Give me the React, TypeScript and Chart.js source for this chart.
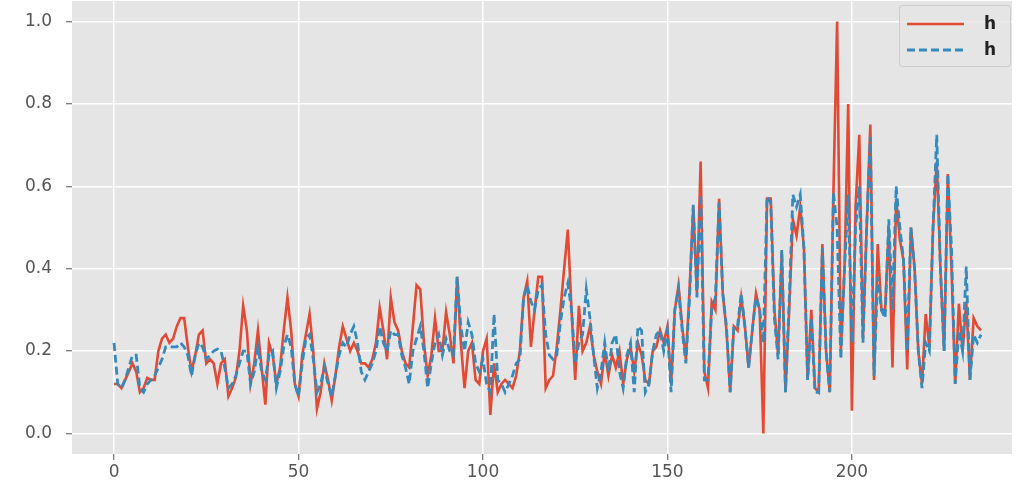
import React, { useEffect, useRef } from "react";
import { Chart, registerables } from "chart.js";

Chart.register(...registerables);

const redValues: number[] = [
  0.12, 0.12, 0.11, 0.13, 0.15, 0.17, 0.15, 0.10, 0.11, 0.135,
  0.13, 0.13, 0.20, 0.23, 0.24, 0.22, 0.23, 0.26, 0.28, 0.28,
  0.21, 0.15, 0.19, 0.24, 0.25, 0.17, 0.18, 0.17, 0.12, 0.17,
  0.18, 0.09, 0.11, 0.135, 0.2, 0.31, 0.25, 0.12, 0.17, 0.25,
  0.16, 0.07, 0.22, 0.19, 0.12, 0.16, 0.25, 0.33, 0.25, 0.12,
  0.09, 0.19, 0.24, 0.29, 0.2, 0.06, 0.1, 0.17, 0.13, 0.08,
  0.14, 0.21, 0.26, 0.23, 0.2, 0.22, 0.2, 0.17, 0.17, 0.16,
  0.18, 0.22, 0.305, 0.25, 0.18, 0.33, 0.27, 0.25, 0.2, 0.17,
  0.16, 0.26, 0.36, 0.35, 0.22, 0.14, 0.19, 0.28, 0.2, 0.2,
  0.295, 0.24, 0.17, 0.38, 0.22, 0.11, 0.2, 0.22, 0.13, 0.12,
  0.2, 0.23, 0.045, 0.17, 0.1, 0.12, 0.13, 0.12, 0.11, 0.14,
  0.2, 0.33, 0.37, 0.21, 0.3, 0.38, 0.38, 0.11, 0.13, 0.14,
  0.21, 0.3, 0.4, 0.495, 0.3, 0.13, 0.31, 0.2, 0.22, 0.26,
  0.19, 0.15, 0.12, 0.2, 0.14, 0.19, 0.16, 0.2, 0.12, 0.18,
  0.21, 0.15, 0.22, 0.19, 0.13, 0.12, 0.2, 0.21, 0.25, 0.22,
  0.26, 0.12, 0.3, 0.36, 0.26, 0.18, 0.35, 0.55, 0.34, 0.66,
  0.15, 0.11, 0.32, 0.3, 0.57, 0.34, 0.25, 0.1, 0.26, 0.25,
  0.33, 0.26, 0.16, 0.25, 0.34, 0.3, 0.0, 0.57, 0.57, 0.3,
  0.19, 0.44, 0.1, 0.3, 0.52, 0.48, 0.55, 0.45, 0.13, 0.3,
  0.11, 0.1, 0.46, 0.2, 0.1, 0.59, 1.0, 0.2, 0.4, 0.8,
  0.055, 0.55, 0.725, 0.23, 0.5, 0.75, 0.13, 0.46, 0.3, 0.3,
  0.5, 0.16, 0.57, 0.47, 0.42, 0.155, 0.5, 0.4, 0.2, 0.12,
  0.29, 0.21, 0.5, 0.66, 0.4, 0.2, 0.63, 0.4, 0.12, 0.315,
  0.2, 0.32, 0.13, 0.28, 0.26, 0.25,
];

const blueValues: number[] = [
  0.22, 0.12, 0.11, 0.13, 0.16, 0.19, 0.19, 0.11, 0.10, 0.12,
  0.13, 0.14, 0.16, 0.18, 0.21, 0.21, 0.21, 0.21, 0.22, 0.21,
  0.19, 0.14, 0.19, 0.22, 0.21, 0.18, 0.19, 0.2, 0.205, 0.2,
  0.16, 0.11, 0.12, 0.14, 0.17, 0.2, 0.2, 0.12, 0.15, 0.21,
  0.15, 0.13, 0.19, 0.2, 0.11, 0.15, 0.21, 0.24, 0.21, 0.12,
  0.09, 0.17, 0.23, 0.24, 0.18, 0.1, 0.12, 0.16, 0.12, 0.09,
  0.14, 0.19, 0.22, 0.21, 0.24, 0.26, 0.22, 0.15, 0.13, 0.15,
  0.17, 0.2, 0.26, 0.22, 0.2, 0.25, 0.24, 0.24, 0.19, 0.16,
  0.12, 0.2, 0.23, 0.26, 0.2, 0.11, 0.17, 0.22, 0.24, 0.19,
  0.23, 0.2, 0.19, 0.38, 0.26, 0.2, 0.27, 0.24, 0.17, 0.15,
  0.18, 0.12, 0.1, 0.29, 0.13, 0.12, 0.1, 0.12, 0.14, 0.17,
  0.18, 0.33, 0.36, 0.32, 0.3, 0.35, 0.36, 0.24, 0.19, 0.18,
  0.19, 0.27, 0.33, 0.365, 0.3, 0.17, 0.22, 0.24, 0.35, 0.28,
  0.19, 0.11, 0.15, 0.22, 0.15, 0.22, 0.24, 0.15, 0.11, 0.19,
  0.22, 0.1, 0.26, 0.25, 0.1, 0.12, 0.2, 0.24, 0.25, 0.2,
  0.25, 0.1, 0.3, 0.35, 0.25, 0.17, 0.33, 0.555, 0.33, 0.58,
  0.13, 0.13, 0.3, 0.33, 0.56, 0.34, 0.26, 0.1, 0.26, 0.26,
  0.34, 0.26, 0.16, 0.25, 0.33, 0.3, 0.22, 0.575, 0.56, 0.28,
  0.18, 0.445, 0.1, 0.32, 0.58, 0.55, 0.58, 0.45, 0.13, 0.28,
  0.1, 0.1, 0.45, 0.2, 0.1, 0.585, 0.5, 0.18, 0.4, 0.58,
  0.22, 0.5, 0.6, 0.22, 0.5, 0.72, 0.14, 0.38, 0.3, 0.28,
  0.52, 0.3, 0.6, 0.5, 0.42, 0.2, 0.5, 0.4, 0.2, 0.11,
  0.22, 0.2, 0.5, 0.725, 0.4, 0.2, 0.63, 0.45, 0.12, 0.25,
  0.2, 0.405, 0.13, 0.24, 0.22, 0.24,
];

const seriesLabels: string[] = ["h", "h"];
const xTickValues: number[] = [0, 50, 100, 150, 200];
const yTickValues: number[] = [0, 0.2, 0.4, 0.6, 0.8, 1.0];

const RED = "#E24A33";
const BLUE = "#348ABD";

const bgPlugin = {
  id: "plotBg",
  beforeDraw(chart: any) {
    const { ctx, chartArea } = chart;
    ctx.save();
    ctx.fillStyle = "#E5E5E5";
    ctx.fillRect(chartArea.left, chartArea.top, chartArea.right - chartArea.left, chartArea.bottom - chartArea.top);
    ctx.restore();
  },
};

const legendPlugin = {
  id: "ggLegend",
  afterDraw(chart: any) {
    const { ctx } = chart;
    const x0 = 899, y0 = 5, w = 111, h = 61;
    ctx.save();
    ctx.globalAlpha = 0.8;
    ctx.fillStyle = "#E5E5E5";
    ctx.strokeStyle = "#CCCCCC";
    ctx.lineWidth = 1;
    ctx.beginPath();
    (ctx as any).roundRect ? (ctx as any).roundRect(x0 + 0.5, y0 + 0.5, w, h, 3) : ctx.rect(x0 + 0.5, y0 + 0.5, w, h);
    ctx.fill();
    ctx.globalAlpha = 1;
    ctx.stroke();
    chart.data.datasets.forEach((ds: any, i: number) => {
      const y = 24 + i * 26;
      ctx.strokeStyle = ds.borderColor;
      ctx.lineWidth = ds.borderWidth;
      ctx.setLineDash(ds.borderDash || []);
      ctx.beginPath();
      ctx.moveTo(907, y);
      ctx.lineTo(964, y);
      ctx.stroke();
      ctx.setLineDash([]);
      ctx.fillStyle = "#222222";
      ctx.font = "bold 17px 'DejaVu Sans'";
      ctx.textBaseline = "middle";
      ctx.textAlign = "left";
      ctx.fillText(ds.label, 984, y + 1);
    });
    ctx.restore();
  },
};

export default function App() {
  const canvasRef = useRef<HTMLCanvasElement | null>(null);

  useEffect(() => {
    if (!canvasRef.current) return;
    const labels = redValues.map((_, i) => i);
    const chart = new Chart(canvasRef.current, {
      type: "line",
      data: {
        datasets: [
          {
            label: seriesLabels[0],
            data: redValues.map((v, i) => ({ x: labels[i], y: v })),
            borderColor: RED,
            borderWidth: 2.6,
            pointRadius: 0,
            tension: 0,
            fill: false,
            order: 2,
          },
          {
            label: seriesLabels[1],
            data: blueValues.map((v, i) => ({ x: labels[i], y: v })),
            borderColor: BLUE,
            borderWidth: 2.8,
            borderDash: [8, 4],
            pointRadius: 0,
            tension: 0,
            fill: false,
            order: 1,
          },
        ],
      },
      options: {
        animation: false,
        responsive: false,
        devicePixelRatio: 1,
        layout: { padding: { top: 1, right: 7, left: 0, bottom: 0 } },
        plugins: { legend: { display: false }, tooltip: { enabled: false } },
        scales: {
          x: {
            type: "linear",
            min: -11.4,
            max: 243.4,
            afterBuildTicks: (scale: any) => {
              scale.ticks = xTickValues.map((v) => ({ value: v }));
            },
            afterFit: (scale: any) => {
              scale.height = 32;
              scale.paddingLeft = 0;
              scale.paddingRight = 0;
            },
            grid: {
              color: "#FFFFFF",
              lineWidth: 1.5,
              drawTicks: true,
              tickColor: "#555555",
              tickLength: 6,
              tickWidth: 1,
            },
            border: { display: false },
            ticks: {
              color: "#555555",
              font: { family: "'DejaVu Sans'", size: 17 },
              padding: 2,
              maxRotation: 0,
              callback: (v: any) => String(v),
            },
          },
          y: {
            type: "linear",
            min: -0.05,
            max: 1.05,
            afterBuildTicks: (scale: any) => {
              scale.ticks = yTickValues.map((v) => ({ value: v }));
            },
            afterFit: (scale: any) => {
              scale.width = 72;
              scale.paddingTop = 0;
              scale.paddingBottom = 0;
            },
            grid: {
              color: "#FFFFFF",
              lineWidth: 1.5,
              drawTicks: true,
              tickColor: "#555555",
              tickLength: 6,
              tickWidth: 1,
            },
            border: { display: false },
            ticks: {
              color: "#555555",
              font: { family: "'DejaVu Sans'", size: 17 },
              padding: 14,
              callback: (v: any) => Number(v).toFixed(1),
            },
          },
        },
      },
      plugins: [bgPlugin, legendPlugin],
    });
    return () => chart.destroy();
  }, []);

  return (
    <div style={{ position: "fixed", left: 0, top: 0, width: 1019, height: 486, background: "#FFFFFF" }}>
      <canvas ref={canvasRef} width={1019} height={486} />
    </div>
  );
}
